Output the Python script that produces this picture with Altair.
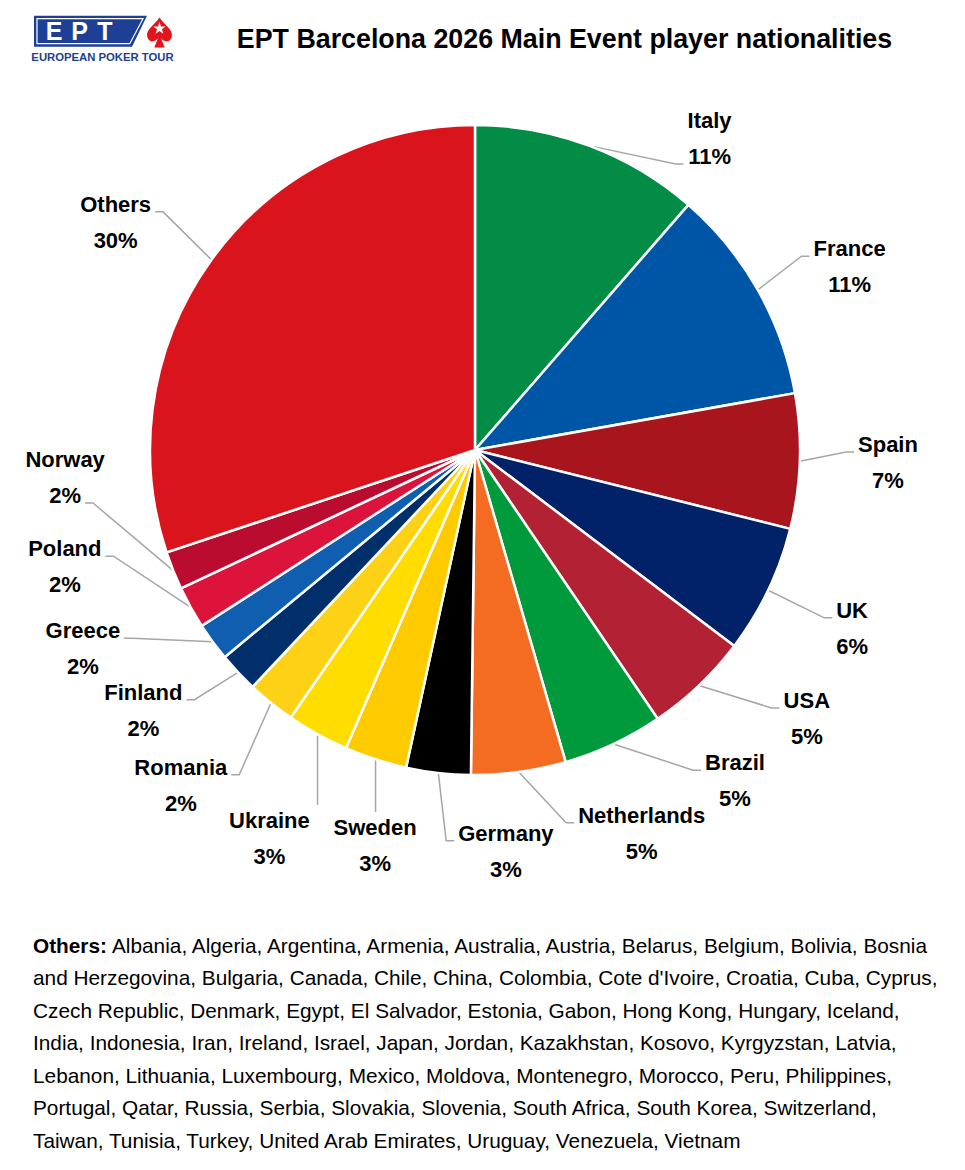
import math
import altair as alt
import pandas as pd

# ---------------- data ----------------
countries = ["Italy", "France", "Spain", "UK", "USA", "Brazil", "Netherlands", "Germany",
             "Sweden", "Ukraine", "Romania", "Finland", "Greece", "Poland", "Norway", "Others"]
shares = [11.4, 10.8, 6.7, 6.4, 5.2, 5.0, 4.7, 3.2, 3.1, 3.1, 2.4, 2.0, 1.9, 2.1, 1.9, 30.1]
colors = ["#028c46", "#0056a6", "#a8151c", "#012169", "#b22234", "#009a3c", "#f36c21", "#000000",
          "#fecb00", "#ffdd00", "#fcd116", "#002f6c", "#0f5eaf", "#dc143c", "#ba0c2f", "#da141c"]

title_text = "EPT Barcelona 2026 Main Event player nationalities"
others_head = "Others:"
others_lines = [
    "Albania, Algeria, Argentina, Armenia, Australia, Austria, Belarus, Belgium, Bolivia, Bosnia",
    "and Herzegovina, Bulgaria, Canada, Chile, China, Colombia, Cote d'Ivoire, Croatia, Cuba, Cyprus,",
    "Czech Republic, Denmark, Egypt, El Salvador, Estonia, Gabon, Hong Kong, Hungary, Iceland,",
    "India, Indonesia, Iran, Ireland, Israel, Japan, Jordan, Kazakhstan, Kosovo, Kyrgyzstan, Latvia,",
    "Lebanon, Lithuania, Luxembourg, Mexico, Moldova, Montenegro, Morocco, Peru, Philippines,",
    "Portugal, Qatar, Russia, Serbia, Slovakia, Slovenia, South Africa, South Korea, Switzerland,",
    "Taiwan, Tunisia, Turkey, United Arab Emirates, Uruguay, Venezuela, Vietnam",
]

# ---------------- layout (label placement, not data) ----------------
CX, CY, R = 467, 442, 325
label_angle = [35.5, 61.8, 89.3, 113.1, 127.1, 140.3, 155.5, 175.4,
               194.8, 209.0, 222.8, 233.8, 245.2, 256.4, 268.6, 304.3]
label_dist = [404, 425, 413, 410, 416, 407, 402, 385, 391, 424, 433, 411, 432, 422, 410, 435]
attach = ["pct", "name", "name", "name", "name", "name", "name", "name",
          "top", "top", "name", "name", "name", "name", "pct", "name"]
LABEL_FS = 22
LINE_GAP = 36
FOOT_FS = 20.8
FONT = "Liberation Sans"

bold_w = {'A': 722, 'B': 722, 'C': 722, 'D': 722, 'E': 667, 'F': 611, 'G': 778, 'H': 722, 'I': 278,
          'K': 722, 'N': 722, 'O': 778, 'P': 667, 'R': 722, 'S': 667, 'U': 722, 'a': 556, 'c': 556,
          'd': 611, 'e': 556, 'g': 611, 'h': 611, 'i': 278, 'k': 556, 'l': 278, 'm': 889, 'n': 611,
          'o': 611, 'p': 611, 'r': 389, 's': 556, 't': 333, 'w': 778, 'y': 556, 'z': 500, '%': 889}


def text_w(s, fs):
    return sum(bold_w.get(ch, 556) for ch in s) / 1000.0 * fs


total = sum(shares)
pie_df = pd.DataFrame({"country": countries, "share": shares, "idx": list(range(len(countries)))})

text_rows, line_rows = [], []
cum = 0.0
for i, (c, v) in enumerate(zip(countries, shares)):
    mid = (cum + v / 2) / total * 2 * math.pi
    cum += v
    ex, ey = CX + R * math.sin(mid), CY - R * math.cos(mid)
    a = math.radians(label_angle[i])
    nx, ny = CX + label_dist[i] * math.sin(a), CY - label_dist[i] * math.cos(a)
    pct = f"{round(v / total * 100)}%"
    text_rows.append({"txt": c, "x": nx, "y": ny})
    text_rows.append({"txt": pct, "x": nx, "y": ny + LINE_GAP})
    if attach[i] == "top":
        pts = [(ex, ey), (ex, ny - 16)]
    else:
        s = c if attach[i] == "name" else pct
        ly = (ny if attach[i] == "name" else ny + LINE_GAP) + 7
        hw = text_w(s, LABEL_FS) / 2
        if nx > ex:
            ax = nx - hw - 4
            pts = [(ex, ey), (ax - 8, ly), (ax, ly)]
        else:
            ax = nx + hw + 4
            pts = [(ex, ey), (ax + 8, ly), (ax, ly)]
    for k, (px, py) in enumerate(pts):
        line_rows.append({"country": c, "k": k, "x": px, "y": py})

text_df = pd.DataFrame(text_rows)
line_df = pd.DataFrame(line_rows)

foot_df = pd.DataFrame({
    "txt": others_lines,
    "x": [104] + [25] * (len(others_lines) - 1),
    "y": [938.5 + 32.5 * i for i in range(len(others_lines))],
})

# ---------------- marks ----------------
leaders = alt.Chart(line_df).mark_line(color="#a6a6a6", strokeWidth=1.5).encode(
    x=alt.X("x:Q", scale=None, axis=None),
    y=alt.Y("y:Q", scale=None, axis=None),
    detail="country:N",
    order="k:Q",
)

pie = alt.Chart(pie_df).mark_arc(outerRadius=R, stroke="white", strokeWidth=2.5).encode(
    theta=alt.Theta("share:Q", stack=True),
    color=alt.Color("country:N", scale=alt.Scale(domain=countries, range=colors), legend=None),
    order=alt.Order("idx:Q"),
    x=alt.value(CX),
    y=alt.value(CY),
)

labels = alt.Chart(text_df).mark_text(
    font=FONT, fontSize=LABEL_FS, fontWeight="bold", color="#000000", align="center", baseline="middle"
).encode(
    x=alt.X("x:Q", scale=None, axis=None),
    y=alt.Y("y:Q", scale=None, axis=None),
    text="txt:N",
)

title = alt.Chart(pd.DataFrame({"t": [title_text]})).mark_text(
    font=FONT, fontSize=26.8, fontWeight="bold", color="#000000", align="center", baseline="middle"
).encode(x=alt.value(556.5), y=alt.value(32), text="t:N")

foot = alt.Chart(foot_df).mark_text(
    font=FONT, fontSize=FOOT_FS, color="#000000", align="left", baseline="middle"
).encode(
    x=alt.X("x:Q", scale=None, axis=None),
    y=alt.Y("y:Q", scale=None, axis=None),
    text="txt:N",
)
foot_head = alt.Chart(pd.DataFrame({"t": [others_head]})).mark_text(
    font=FONT, fontSize=FOOT_FS, fontWeight="bold", color="#000000", align="left", baseline="middle"
).encode(x=alt.value(25), y=alt.value(938.5), text="t:N")

# ---------------- logo ----------------
logo_blue = "#1d3f95"
banner_path = "M-1,-0.274 L1,-0.274 L0.735,0.274 L-1,0.274 Z"
inner_path = "M-1,-0.236 L1,-0.236 L0.75,0.236 L-1,0.236 Z"
spade_path = ("M0,-1.15 C0.35,-0.6 1.05,-0.25 0.95,0.3 C0.85,0.75 0.35,0.8 0.12,0.45 "
              "L0.4,1.15 L-0.4,1.15 L-0.12,0.45 C-0.35,0.8 -0.85,0.75 -0.95,0.3 "
              "C-1.05,-0.25 -0.35,-0.6 0,-1.15 Z")
star_path = ("M0,-1 L0.235,-0.324 L0.951,-0.309 L0.38,0.124 L0.588,0.809 L0,0.4 "
             "L-0.588,0.809 L-0.38,0.124 L-0.951,-0.309 L-0.235,-0.324 Z")
one = pd.DataFrame({"a": [0]})
banner = alt.Chart(one).mark_point(shape=banner_path, filled=True, size=113 ** 2, color=logo_blue,
                                   opacity=1).encode(x=alt.value(82.5), y=alt.value(23.2))
banner_in = alt.Chart(one).mark_point(shape=inner_path, filled=False, size=106 ** 2, color="white",
                                      strokeWidth=1.2, opacity=1).encode(x=alt.value(82), y=alt.value(23.2))
spade = alt.Chart(one).mark_point(shape=spade_path, filled=True, size=26 ** 2, color="#e2141c",
                                  opacity=1).encode(x=alt.value(151.5), y=alt.value(24.5))
star = alt.Chart(one).mark_point(shape=star_path, filled=True, size=13 ** 2, color="white",
                                 opacity=1).encode(x=alt.value(151.5), y=alt.value(20.5))
ept_df = pd.DataFrame({"t": ["E", "P", "T"], "x": [46, 71.5, 97]})
ept = alt.Chart(ept_df).mark_text(font=FONT, fontSize=25, fontWeight=900, color="white",
                                  align="center", baseline="middle").encode(
    x=alt.X("x:Q", scale=None, axis=None), y=alt.value(24), text="t:N")
tour = alt.Chart(pd.DataFrame({"t": ["EUROPEAN POKER TOUR"]})).mark_text(
    font=FONT, fontSize=11.3, fontWeight="bold", color=logo_blue, align="center", baseline="middle"
).encode(x=alt.value(94.5), y=alt.value(50), text="t:N")

chart = alt.layer(
    leaders, pie, labels, title, foot, foot_head, banner, banner_in, spade, star, ept, tour
).properties(width=949, height=1154, padding=0, autosize="none", background="white"
).configure_view(stroke=None)

chart.save("out.html", embed_options={"renderer": "svg", "actions": False})
